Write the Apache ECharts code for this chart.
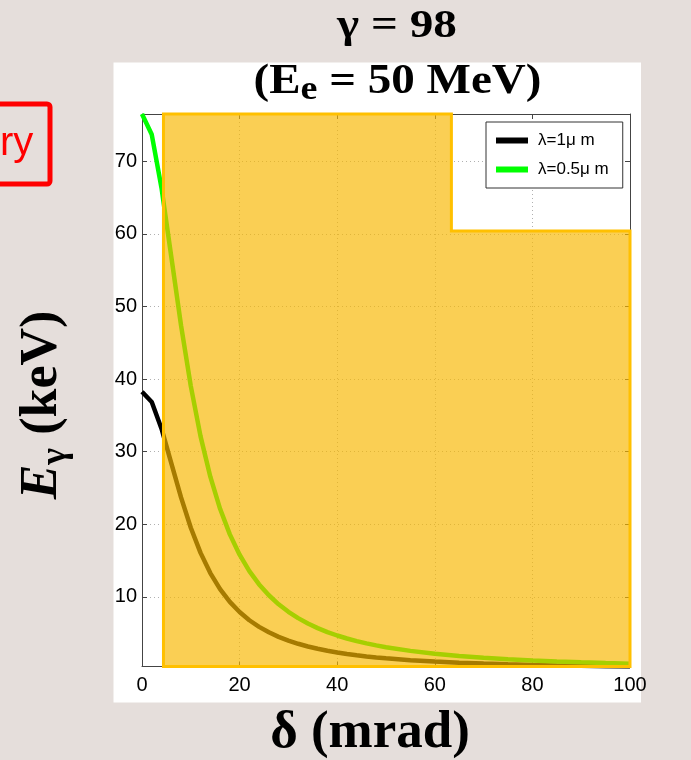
<!DOCTYPE html>
<html><head><meta charset="utf-8">
<script src="https://cdn.jsdelivr.net/npm/echarts@6/dist/echarts.min.js"></script>
<style>html,body{margin:0;padding:0;background:#E5DEDB;}#c{width:691px;height:760px;}</style>
</head><body><div id="c"></div>
<script>
// ---- data ----
const deltas = [0,2,4,6,8,10,12,14,16,18,20,22,24,26,28,30,32,34,36,38,40,42,44,46,48,50,55,60,65,70,75,80,85,90,95,100];
const lambda1um = [38.25,36.84,33.15,28.42,23.69,19.51,16.05,13.27,11.06,9.30,7.90,6.77,5.86,5.11,4.48,3.97,3.53,3.16,2.84,2.57,2.34,2.13,1.95,1.79,1.65,1.53,1.27,1.08,0.92,0.80,0.70,0.61,0.54,0.49,0.44,0.40];
const lambda05um = [76.5,73.67,66.31,56.85,47.38,39.02,32.10,26.54,22.12,18.60,15.80,13.54,11.71,10.21,8.97,7.93,7.06,6.32,5.69,5.14,4.67,4.26,3.90,3.59,3.31,3.06,2.55,2.15,1.84,1.59,1.39,1.22,1.09,0.97,0.87,0.79];
const seriesNames = ['λ=1μ m', 'λ=0.5μ m'];
const xTicks = [0,20,40,60,80,100];
const yTicks = [10,20,30,40,50,60,70];
const xRange = [0, 100];
const yRange = [0.4, 76.5];
// highlighted (orange) region outline
const regionX = [4.4, 4.4, 63.4, 63.4, 100, 100];
const regionY = [0.4, 76.5, 76.5, 60.4, 60.4, 0.4];

const chart = echarts.init(document.getElementById('c'), null, {renderer: 'canvas'});
const tickFont = 'Liberation Sans';
const axisCol = '#444';
const gridLine = {show: true, lineStyle: {type: [1, 3], color: '#b0b0b0', width: 1}};

function mkX(pos, main) {
  return {
    type: 'value', position: pos, min: xRange[0], max: xRange[1],
    axisLine: {show: true, onZero: false, lineStyle: {color: axisCol, width: 1}},
    axisTick: {show: true, inside: true, length: 5, customValues: xTicks, lineStyle: {color: axisCol}},
    axisLabel: {show: main, customValues: xTicks, fontFamily: tickFont, fontSize: 20, color: '#000', margin: 9},
    splitLine: main ? gridLine : {show: false}
  };
}
function mkY(pos, main) {
  return {
    type: 'value', position: pos, min: yRange[0], max: yRange[1],
    axisLine: {show: true, onZero: false, lineStyle: {color: axisCol, width: 1}},
    axisTick: {show: true, inside: true, length: 5, customValues: yTicks, lineStyle: {color: axisCol}},
    axisLabel: {show: main, customValues: yTicks, fontFamily: tickFont, fontSize: 20, color: '#000', margin: 5},
    splitLine: main ? gridLine : {show: false}
  };
}

const serif = 'Liberation Serif';
chart.setOption({
  animation: false,
  backgroundColor: '#E5DEDB',
  grid: {left: 142, right: 61, top: 114, bottom: 93.5, containLabel: false},
  xAxis: [mkX('bottom', true), mkX('top', false)],
  yAxis: [mkY('left', true), mkY('right', false)],
  legend: {
    data: seriesNames, orient: 'vertical', left: 486, top: 122,
    padding: [10, 14, 10, 10], itemGap: 12, itemWidth: 32, itemHeight: 6, icon: 'rect',
    backgroundColor: '#fff', borderColor: '#333', borderWidth: 1,
    textStyle: {fontFamily: tickFont, fontSize: 17, color: '#000', padding: [0, 0, 0, 5]}
  },
  series: [
    {name: seriesNames[0], type: 'line', showSymbol: false, z: 2,
     data: deltas.map((d, i) => [d, lambda1um[i]]),
     lineStyle: {color: '#000', width: 4.5}, itemStyle: {color: '#000'}},
    {name: seriesNames[1], type: 'line', showSymbol: false, z: 2,
     data: deltas.map((d, i) => [d, lambda05um[i]]),
     lineStyle: {color: '#00ff00', width: 4.5}, itemStyle: {color: '#00ff00'}},
    {name: 'region', type: 'custom', z: 3, silent: true, clip: false,
     data: [[regionX[0], regionY[0]]],
     renderItem: function (params, api) {
       const pts = regionX.map((x, i) => api.coord([x, regionY[i]]));
       return {type: 'polygon', shape: {points: pts},
               style: {fill: 'rgba(248,183,0,0.67)', stroke: '#FFC000', lineWidth: 3, lineJoin: 'miter'}};
     }}
  ],
  graphic: [
    {type: 'rect', z: -10, silent: true, shape: {x: 113.5, y: 62.5, width: 527.5, height: 640}, style: {fill: '#fff'}},
    {type: 'rect', z: 10, silent: true, shape: {x: -10, y: 104, width: 60, height: 80, r: 3}, style: {fill: 'none', stroke: '#ff0000', lineWidth: 5}},
    {type: 'text', z: 10, x: 0, y: 143.6, style: {text: 'ry', fill: '#ff0000', fontFamily: 'Liberation Sans', fontSize: 40, align: 'left', verticalAlign: 'middle'}},
    {type: 'text', z: 10, x: 397, y: 26.5, scaleX: 1.18, style: {text: 'γ = 98', fill: '#000', fontFamily: serif, fontWeight: 'bold', fontSize: 40, align: 'center', verticalAlign: 'middle'}},
    {type: 'text', z: 10, x: 397.5, y: 82.5, scaleX: 1.12, style: {
      text: '{m|(E}{s|e}{m| = 50 MeV)}', align: 'center', verticalAlign: 'middle',
      rich: {
        m: {fontFamily: serif, fontWeight: 'bold', fontSize: 42, lineHeight: 50, fill: '#000', color: '#000'},
        s: {fontFamily: serif, fontWeight: 'bold', fontSize: 34, lineHeight: 30, verticalAlign: 'bottom', fill: '#000', color: '#000'}
      }}},
    {type: 'text', z: 10, x: 42.5, y: 405, rotation: Math.PI / 2, style: {
      text: '{e|E}{s|γ}{m| (keV)}', align: 'center', verticalAlign: 'middle',
      rich: {
        e: {fontFamily: serif, fontWeight: 'bold', fontStyle: 'italic', fontSize: 52, lineHeight: 62, fill: '#000', color: '#000'},
        m: {fontFamily: serif, fontWeight: 'bold', fontSize: 52, lineHeight: 62, fill: '#000', color: '#000'},
        s: {fontFamily: serif, fontWeight: 'bold', fontSize: 36, lineHeight: 31, verticalAlign: 'bottom', fill: '#000', color: '#000'}
      }}},
    {type: 'text', z: 10, x: 370, y: 733.8, style: {text: 'δ (mrad)', fill: '#000', fontFamily: serif, fontWeight: 'bold', fontSize: 53, align: 'center', verticalAlign: 'middle'}}
  ]
});
</script></body></html>
